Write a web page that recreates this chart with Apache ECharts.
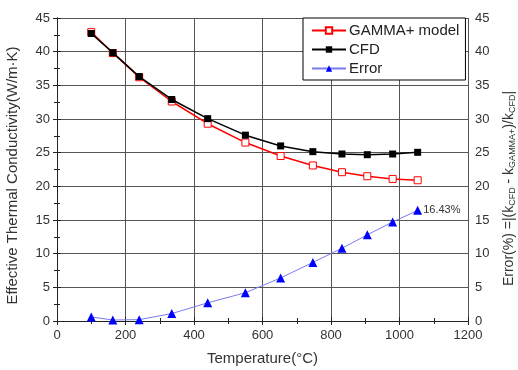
<!DOCTYPE html>
<html>
<head>
<meta charset="utf-8">
<script src="https://cdn.jsdelivr.net/npm/echarts@6/dist/echarts.min.js"></script>
<style>
  html, body { margin: 0; padding: 0; background: #fff; }
  #chart { width: 518px; height: 370px; }
</style>
</head>
<body>
<div id="chart"></div>
<script>
const temperature = [100, 163, 240, 335, 440, 550, 653, 747, 832, 906, 980, 1053];
const gammaModel = [42.9, 39.8, 36.2, 32.6, 29.3, 26.5, 24.5, 23.1, 22.1, 21.5, 21.1, 20.9];
const cfd = [42.7, 39.85, 36.3, 32.9, 30.05, 27.6, 26.0, 25.15, 24.8, 24.7, 24.8, 25.05];
const errorPct = [0.6, 0.15, 0.2, 1.1, 2.7, 4.2, 6.4, 8.7, 10.8, 12.8, 14.7, 16.43];

const pairs = (ys) => temperature.map((x, i) => [x, ys[i]]);

const chart = echarts.init(document.getElementById("chart"));

const textColor = "#333";
const font = "Liberation Sans, Arial, sans-serif";
const frame = { show: true, lineStyle: { color: "#222" } };
const tick = { show: true, inside: true, length: 4, lineStyle: { color: "#222" } };
const minor = { show: true, splitNumber: 2, length: 3, lineStyle: { color: "#222" } };
const grid = { show: true, lineStyle: { color: "#555", width: 1, type: "solid" } };

chart.setOption({
  animation: false,
  textStyle: { fontFamily: font },
  grid: { left: 57, right: 50, top: 18, bottom: 49, outerBoundsMode: "none", containLabel: false },
  legend: {
    orient: "vertical",
    left: 303,
    top: 18,
    padding: [5, 6, 4, 8],
    itemGap: 4,
    itemWidth: 34,
    itemHeight: 8,
    borderColor: "#000",
    borderWidth: 1,
    borderRadius: 0,
    backgroundColor: "#fff",
    textStyle: { fontSize: 15, color: "#222", fontFamily: font, padding: [0, 0, 0, -2] },
    data: ["GAMMA+ model", "CFD", "Error"]
  },
  xAxis: [
    {
      type: "value",
      min: 0,
      max: 1200,
      interval: 200,
      name: "Temperature(\u00b0C)",
      nameLocation: "middle",
      nameGap: 30,
      nameTextStyle: { fontSize: 15, color: textColor },
      axisLine: frame,
      axisTick: tick,
      minorTick: minor,
      axisLabel: { fontSize: 13, color: textColor, margin: 8, formatter: (v) => String(v) },
      splitLine: grid
    },
    {
      type: "value",
      position: "top",
      min: 0,
      max: 1200,
      interval: 200,
      axisLine: frame,
      axisTick: tick,
      minorTick: minor,
      axisLabel: { show: false },
      splitLine: { show: false }
    }
  ],
  yAxis: [
    {
      type: "value",
      min: 0,
      max: 45,
      interval: 5,
      name: "Effective Thermal Conductivity(W/m\u00b7K)",
      nameLocation: "middle",
      nameGap: 37,
      nameTextStyle: { fontSize: 15, color: textColor, padding: [0, 12, 0, 0] },
      axisLine: frame,
      axisTick: tick,
      minorTick: minor,
      axisLabel: { fontSize: 13, color: textColor, margin: 7 },
      splitLine: grid
    },
    {
      type: "value",
      position: "right",
      min: 0,
      max: 45,
      interval: 5,
      name: "{a|Error(%) =|(k}{s|CFD}{a| - k}{s|GAMMA+}{a|)/k}{s|CFD}{a||}",
      nameLocation: "middle",
      nameRotate: 90,
      nameGap: 33,
      nameTextStyle: {
        color: textColor,
        padding: [0, 38, 0, 0],
        rich: {
          a: { fontSize: 14, color: textColor, fontFamily: font },
          s: { fontSize: 9, color: textColor, fontFamily: font, verticalAlign: "bottom", padding: [7, 0, 0, 0] }
        }
      },
      axisLine: frame,
      axisTick: tick,
      minorTick: minor,
      axisLabel: { fontSize: 13, color: textColor, margin: 7 },
      splitLine: { show: false }
    }
  ],
  series: [
    {
      name: "GAMMA+ model",
      type: "line",
      data: pairs(gammaModel),
      symbol: "rect",
      symbolSize: 7,
      lineStyle: { color: "#ff0000", width: 1.5 },
      itemStyle: { color: "#fff", borderColor: "#ff0000", borderWidth: 1 },
      z: 3
    },
    {
      name: "CFD",
      type: "line",
      data: pairs(cfd),
      symbol: "rect",
      symbolSize: 7,
      lineStyle: { color: "#000", width: 1.5 },
      itemStyle: { color: "#000" },
      z: 4
    },
    {
      name: "Error",
      type: "line",
      yAxisIndex: 1,
      data: pairs(errorPct),
      symbol: "triangle",
      symbolSize: 9,
      lineStyle: { color: "#7a7af0", width: 1 },
      itemStyle: { color: "#0000ff" },
      label: {
        show: true,
        position: "right",
        distance: 1,
        fontSize: 11,
        color: "#333",
        formatter: (p) => (p.dataIndex === errorPct.length - 1 ? errorPct[p.dataIndex].toFixed(2) + "%" : "")
      },
      z: 5
    }
  ]
});
</script>
</body>
</html>
